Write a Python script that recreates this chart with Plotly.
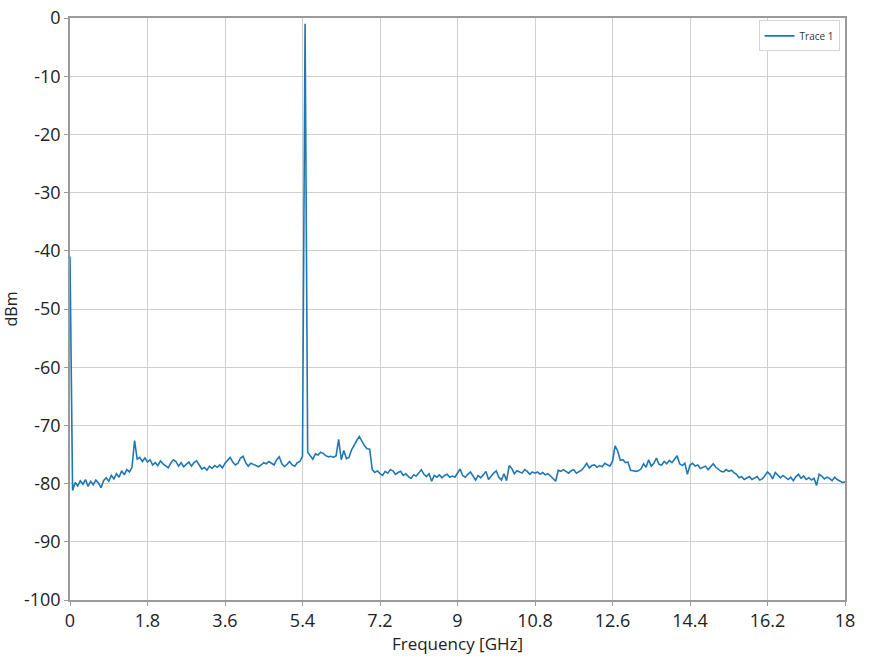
import plotly.graph_objects as go

# Sampling grid (GHz): 0 to 18 in steps of 0.06
f_step = 0.06
n_points = 301

dbm_values = [
    # 0.00 - 1.74
    -41.0, -81.2, -79.8, -80.4, -79.5, -80.1, -79.3, -80.5, -79.6, -80.2,
    -79.4, -79.9, -80.7, -79.5, -79.0, -79.6, -78.6, -79.2, -78.3, -78.9,
    -77.8, -78.5, -77.6, -78.0, -77.2, -72.6, -75.8, -75.5, -76.2, -75.6,
    # 1.80 - 3.54
    -76.3, -75.9, -76.8, -76.4, -76.9, -76.1, -76.6, -77.0, -77.3, -76.5,
    -75.9, -76.2, -77.0, -76.4, -77.1, -76.7, -76.3, -77.0, -76.4, -76.1,
    -76.8, -77.5, -77.2, -77.7, -77.0, -77.4, -76.9, -77.2, -76.8, -77.3,
    # 3.60 - 5.34
    -76.5, -75.9, -75.5, -76.3, -76.8, -76.5, -75.6, -75.3, -76.4, -77.0,
    -76.5, -76.7, -76.9, -77.1, -76.8, -76.4, -76.6, -76.2, -76.5, -76.8,
    -75.9, -75.4, -76.6, -77.1, -76.7, -76.2, -76.8, -77.0, -76.4, -76.2,
    # 5.40 - 7.14
    -75.3, -1.0, -74.6, -75.2, -75.8, -74.9, -75.1, -74.6, -74.8, -75.2,
    -75.4, -75.3, -75.5, -75.2, -72.4, -75.9, -74.3, -75.7, -75.5, -74.2,
    -73.3, -72.6, -71.9, -72.8, -73.5, -74.0, -74.1, -77.6, -78.1, -77.8,
    # 7.20 - 8.94
    -78.3, -78.6, -77.9, -78.2, -77.6, -77.8, -78.4, -78.1, -77.9, -78.6,
    -78.3, -78.8, -79.1, -78.5, -78.7, -78.2, -77.6, -78.4, -78.8, -78.3,
    -79.6, -78.6, -78.9, -78.5, -79.0, -78.6, -78.4, -78.9, -78.7, -78.9,
    # 9.00 - 10.74
    -78.1, -77.5, -78.6, -78.9, -78.4, -78.0, -78.7, -79.4, -78.6, -79.0,
    -78.5, -77.9, -79.3, -78.7, -78.2, -77.8, -78.9, -79.4, -78.3, -79.5,
    -76.9, -77.4, -78.3, -77.8, -78.0, -78.2, -77.6, -77.9, -78.4, -78.0,
    # 10.80 - 12.54
    -78.2, -78.0, -78.4, -78.1, -78.5, -78.3, -78.7, -79.1, -79.6, -77.7,
    -77.9, -77.6, -77.9, -78.2, -77.8, -77.6, -78.2, -77.9, -77.7, -77.2,
    -76.5, -77.3, -76.9, -76.8, -77.2, -76.9, -77.1, -76.5, -76.8, -77.0,
    # 12.60 - 14.34
    -76.2, -73.5, -74.4, -76.0, -75.9, -76.4, -76.3, -77.7, -77.8, -77.9,
    -77.8, -77.5, -76.6, -77.2, -75.9, -77.0, -76.5, -75.6, -76.7, -76.8,
    -76.2, -76.6, -76.0, -76.4, -75.8, -75.2, -76.6, -76.9, -76.5, -78.4,
    # 14.40 - 16.14
    -76.8, -76.5, -77.0, -76.8, -77.4, -77.2, -77.0, -77.6, -77.1, -76.6,
    -77.2, -77.6, -77.9, -78.0, -77.6, -77.9, -77.7, -78.1, -78.4, -79.0,
    -78.8, -79.3, -79.0, -78.8, -79.3, -79.0, -78.8, -79.4, -79.2, -78.6,
    # 16.20 - 18.00
    -78.0, -78.4, -79.2, -78.1, -78.5, -79.0, -78.6, -78.9, -79.3, -78.9,
    -79.5, -78.8, -78.4, -79.1, -78.7, -79.3, -79.0, -79.4, -79.1, -80.3,
    -78.4, -78.7, -79.2, -78.9, -79.1, -79.5, -78.9, -79.3, -79.6, -79.8,
    -79.7,
]

freq_ghz = [round(i * f_step, 2) for i in range(n_points)]

x_tick_vals = [0, 1.8, 3.6, 5.4, 7.2, 9, 10.8, 12.6, 14.4, 16.2, 18]
x_tick_text = ["0", "1.8", "3.6", "5.4", "7.2", "9", "10.8", "12.6", "14.4", "16.2", "18"]
y_tick_vals = [0, -10, -20, -30, -40, -50, -60, -70, -80, -90, -100]
y_tick_text = ["0", "-10", "-20", "-30", "-40", "-50", "-60", "-70", "-80", "-90", "-100"]

fig = go.Figure()
fig.add_trace(go.Scatter(
    x=freq_ghz, y=dbm_values, mode="lines", name="Trace 1",
    line=dict(color="#1f77b4", width=1.6),
    showlegend=True,
))

font_family = "Open Sans, Liberation Sans, sans-serif"

fig.update_layout(
    width=884, height=662,
    margin=dict(l=70, r=39, t=18, b=62),
    paper_bgcolor="white", plot_bgcolor="white",
    font=dict(family=font_family, color="#222222"),
    showlegend=True,
    legend=dict(
        x=0.993, y=0.996, xanchor="right", yanchor="top",
        bgcolor="white", bordercolor="#d4d4d4", borderwidth=1,
        font=dict(size=10, family=font_family, color="#333333"),
        itemwidth=30, tracegroupgap=0,
    ),
    xaxis=dict(
        range=[0, 18], tickvals=x_tick_vals, ticktext=x_tick_text,
        showgrid=True, gridcolor="#cfcfcf", gridwidth=1,
        showline=True, linecolor="#9a9a9a", linewidth=1.5, mirror=True,
        ticks="outside", ticklen=4, tickcolor="#9a9a9a",
        tickfont=dict(size=18),
        title=dict(text="Frequency [GHz]", font=dict(size=17), standoff=6),
        zeroline=False, automargin=False,
    ),
    yaxis=dict(
        range=[-100, 0], tickvals=y_tick_vals, ticktext=y_tick_text,
        showgrid=True, gridcolor="#cfcfcf", gridwidth=1,
        showline=True, linecolor="#9a9a9a", linewidth=1.5, mirror=True,
        ticks="outside", ticklen=4, tickcolor="#9a9a9a",
        tickfont=dict(size=18),
        title=dict(text="dBm", font=dict(size=16), standoff=4),
        zeroline=False, automargin=False,
    ),
)

fig.write_html(
    "out.html",
    config={"displayModeBar": False},
    post_script="document.body.style.margin='0';document.body.style.padding='0';",
)
